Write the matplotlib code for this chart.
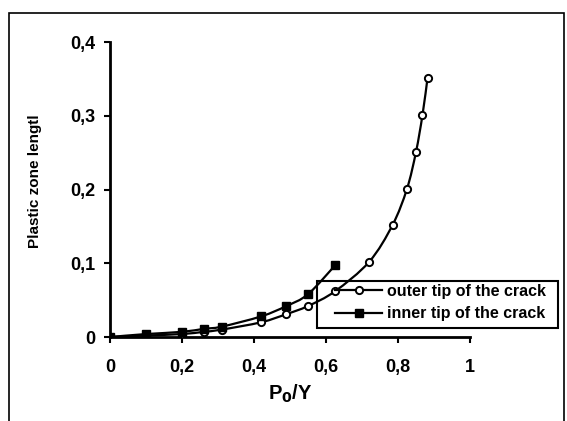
import matplotlib
matplotlib.use("Agg")
import matplotlib.pyplot as plt
import numpy as np
from matplotlib.path import Path
from matplotlib.patches import PathPatch, Rectangle
from matplotlib.lines import Line2D

plt.rcParams['font.family'] = ['Liberation Sans', 'DejaVu Sans']

# Data
outer_x = [0.0, 0.1, 0.2, 0.26, 0.31, 0.42, 0.49, 0.55, 0.625, 0.72, 0.785, 0.825, 0.85, 0.868, 0.882]
outer_y = [0.0, 0.002, 0.004, 0.007, 0.010, 0.020, 0.031, 0.042, 0.062, 0.102, 0.152, 0.201, 0.251, 0.301, 0.351]
inner_x = [0.0, 0.1, 0.2, 0.26, 0.31, 0.42, 0.49, 0.55, 0.625]
inner_y = [0.0, 0.004, 0.007, 0.011, 0.014, 0.028, 0.042, 0.058, 0.097]
xticks = [0, 0.2, 0.4, 0.6, 0.8, 1.0]
xtick_labels = ['0', '0,2', '0,4', '0,6', '0,8', '1']
yticks = [0, 0.1, 0.2, 0.3, 0.4]
ytick_labels = ['0', '0,1', '0,2', '0,3', '0,4']
labels = ['outer tip of the crack', 'inner tip of the crack']

W, H = 567, 421
fig = plt.figure(figsize=(W / 100, H / 100), dpi=100)
ax = fig.add_axes([110 / W, 1 - 337 / H, 360 / W, 295 / H])

def smooth_path(xs, ys, t=1/6):
    pts = np.column_stack([xs, ys]).astype(float)
    verts = [pts[0]]
    codes = [Path.MOVETO]
    n = len(pts)
    for i in range(n - 1):
        p0 = pts[i - 1] if i > 0 else pts[i]
        p1 = pts[i]
        p2 = pts[i + 1]
        p3 = pts[i + 2] if i + 2 < n else pts[i + 1]
        c1 = p1 + (p2 - p0) * t
        c2 = p2 - (p3 - p1) * t
        verts += [c1, c2, p2]
        codes += [Path.CURVE4] * 3
    return Path(verts, codes)

for xs, ys in [(outer_x, outer_y), (inner_x, inner_y)]:
    ax.add_patch(PathPatch(smooth_path(xs, ys), facecolor='none', edgecolor='black', lw=1.6))

ax.plot(outer_x, outer_y, linestyle='none', marker='o', ms=5.2, mfc='white', mec='black', mew=1.4, zorder=3)
ax.plot(inner_x, inner_y, linestyle='none', marker='s', ms=5.8, mfc='black', mec='black', zorder=3)

ax.set_xlim(0, 1)
ax.set_ylim(0, 0.4)
for s in ['top', 'right']:
    ax.spines[s].set_visible(False)
for s in ['left', 'bottom']:
    ax.spines[s].set_linewidth(2)
ax.set_xticks(xticks)
ax.set_xticklabels(xtick_labels, fontsize=13, fontweight='bold')
ax.set_yticks(yticks)
ax.set_yticklabels(ytick_labels, fontsize=13, fontweight='bold')
ax.tick_params(direction='out', length=4, width=1.5)
ax.tick_params(axis='y', pad=6.5)
ax.tick_params(axis='x', pad=12)
fig.text(290 / W, 1 - 394 / H, 'P$_\\mathbf{0}$/Y', fontsize=14.5, fontweight='bold',
         ha='center', va='center')
fig.text(35 / W, 1 - 181 / H, 'Plastic zone lengtl', rotation=90, fontsize=11,
         fontweight='bold', ha='center', va='center')
ax.patch.set_alpha(0)

handles = [
    Line2D([], [], color='black', lw=1.6, marker='o', ms=5.2, mfc='white', mec='black', mew=1.4),
    Line2D([], [], color='black', lw=1.6, marker='s', ms=5.8, mfc='black', mec='black'),
]
leg = fig.legend(handles, labels, loc='upper left', bbox_to_anchor=(335 / W, 1 - 284 / H),
                 prop={'weight': 'bold', 'size': 11.5}, frameon=False,
                 handlelength=2.95, handletextpad=0.3, borderpad=0, labelspacing=0.45,
                 borderaxespad=0)

fig.patches.append(Rectangle((317 / W, 1 - 328 / H), 241 / W, 47 / H, transform=fig.transFigure,
                             fill=False, edgecolor='black', lw=1.5))
fig.patches.append(Rectangle((9 / W, -0.05), 555 / W, 1.05 - 13 / H, transform=fig.transFigure,
                             fill=False, edgecolor='black', lw=1.2))

fig.savefig('out.png', dpi=100)
